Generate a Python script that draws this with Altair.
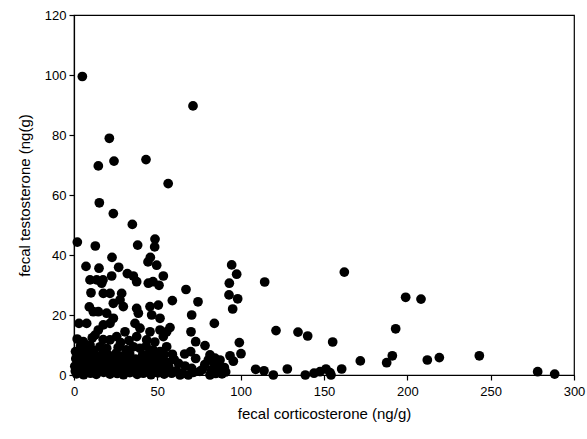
import altair as alt
import pandas as pd

# fecal corticosterone (ng/g) values
x_vals = [
    5.0, 71.4, 21.2, 14.6, 24.0, 43.2, 56.5, 15.2, 23.6, 35.0,
    2.0, 12.8, 38.2, 48.6, 48.4, 22.8, 45.8, 44.4, 7.2, 15.0,
    26.8, 49.6, 32.0, 35.6, 22.6, 53.6, 9.6, 13.6, 17.4, 47.4,
    51.0, 67.2, 59.0, 74.4, 70.6, 84.2, 94.6, 97.6, 93.2, 93.0,
    98.2, 95.2, 70.2, 73.0, 78.6, 99.2, 100.2, 95.6, 93.6, 109.0,
    59.0, 66.4, 70.0, 81.6, 83.6, 87.6, 3.0, 7.6, 4.0, 9.2,
    11.6, 10.2,
    114.4, 162.2, 121.2, 134.4, 140.2, 155.2, 199.0, 208.2, 193.0, 191.0,
    187.6, 212.0, 219.2, 243.2, 278.2, 288.4, 171.8, 160.6, 114.0, 119.6,
    128.0, 138.8, 144.0, 147.6, 151.2, 153.6, 154.2,
    57.6, 55.6, 80.6, 84.6, 86.6, 82.6, 81.6, 56.6, 62.6, 66.6,
    70.6, 68.6, 63.6, 58.6,
    17.6, 21.6, 28.6, 27.6, 23.6, 16.6, 44.6, 37.6, 14.6, 19.6,
    29.6, 37.6, 38.6, 45.6, 50.6, 46.6, 51.6, 23.6, 21.6, 17.6,
    30.6, 36.6, 39.6, 45.6, 51.6, 14.6, 12.6, 25.6, 21.6, 5.6,
    9.6, 15.6, 19.6, 37.6, 43.6, 53.6, 55.6, 35.6, 39.6, 47.6,
    51.6, 3.6, 1.6,
    1.5, 5.8, 9.9, 13.4, 17.8, 21.6, 25.9, 29.7, 33.5, 37.9,
    41.6, 46.2, 50.4, 54.1,
    3.9, 8.1, 12.2, 16.4, 20.3, 24.5, 28.2, 32.6, 36.3, 40.2,
    44.7, 48.3, 52.6, 56.9,
    2.8, 7.2, 11.3, 15.1, 19.4, 23.2, 27.4, 31.2, 35.1, 39.3,
    43.2, 47.4, 51.8, 60.1,
    5.1, 9.3, 13.2, 17.1, 21.0, 25.3, 29.1, 33.4, 41.2, 45.1,
    49.3, 54.2,
    7.5, 11.8, 26.5, 31.3, 43.3, 28.0, 33.0, 17.5, 48.5, 11.0,
    75.5, 78.5, 88.8, 90.2, 85.0, 91.0, 73.0,
    0.8, 3.6, 7.9, 11.7, 15.9, 19.8, 23.9, 27.8, 31.9, 35.8,
    39.7, 43.9, 47.8, 52.1, 2.2, 6.3, 10.4, 14.5, 18.6, 22.7,
    26.6, 30.5, 34.4, 38.5, 42.4, 46.6, 50.7, 55.3, 1.1, 4.6,
    8.8, 12.9, 16.8, 20.9, 24.8, 28.9, 32.8, 36.9, 40.8, 44.9,
    49.0, 53.0, 61.5, 65.2, 71.8, 77.0, 2.5, 0.5, 1.9, 0.9,
]

# fecal testosterone (ng/g) values
y_vals = [
    99.5, 89.7, 78.9, 69.7, 71.3, 71.8, 63.8, 57.4, 53.8, 50.2,
    44.3, 43.0, 43.3, 45.3, 42.7, 39.2, 39.2, 37.7, 36.2, 35.6,
    35.9, 36.6, 33.8, 33.0, 33.0, 33.0, 31.7, 31.7, 31.7, 31.1,
    29.9, 28.5, 24.8, 24.4, 20.0, 17.2, 36.7, 33.6, 30.6, 26.7,
    25.4, 22.0, 14.4, 11.1, 9.8, 10.8, 7.1, 4.6, 6.4, 1.9,
    6.9, 7.0, 7.8, 6.7, 4.4, 5.0, 17.2, 17.2, 9.8, 22.7,
    21.1, 27.4,
    31.0, 34.3, 14.8, 14.3, 13.0, 11.0, 25.9, 25.3, 15.4, 6.4,
    4.1, 5.0, 5.8, 6.4, 1.1, 0.3, 4.7, 2.0, 1.4, 0.0,
    2.0, 0.0, 0.6, 1.1, 2.0, 0.8, 0.0,
    15.8, 14.4, 5.0, 5.6, 2.8, 1.7, 0.0, 4.1, 3.9, 3.0,
    2.2, 0.0, 0.0, 0.6,
    27.2, 27.2, 27.2, 25.0, 23.9, 30.6, 30.6, 31.1, 21.1, 20.6,
    22.8, 22.2, 20.6, 22.8, 23.3, 20.0, 18.9, 18.9, 17.2, 16.7,
    14.4, 17.2, 15.6, 14.4, 15.0, 15.0, 13.3, 12.8, 11.7, 11.1,
    10.0, 9.4, 8.9, 12.8, 11.7, 12.8, 9.4, 9.4, 8.9, 8.3,
    7.8, 6.7, 5.6,
    0.4, 0.1, 0.6, 0.2, 0.9, 0.3, 0.5, 0.1, 0.8, 0.2,
    0.6, 0.1, 0.7, 0.3,
    2.3, 1.9, 2.6, 2.1, 2.8, 1.8, 2.4, 2.0, 2.7, 1.9,
    2.5, 2.2, 1.6, 2.6,
    4.2, 4.6, 3.9, 4.4, 4.0, 4.7, 3.8, 4.5, 4.1, 4.8,
    3.7, 4.3, 4.6, 5.2,
    6.4, 6.9, 6.2, 7.1, 6.5, 7.3, 6.3, 7.0, 6.6, 7.2,
    6.1, 6.8,
    8.6, 8.1, 9.2, 8.4, 9.6, 10.8, 11.5, 11.8, 11.0, 12.4,
    1.2, 3.5, 0.4, 2.5, 0.5, 1.0, 5.5,
    1.3, 1.0, 1.4, 1.1, 1.5, 1.2, 1.0, 1.3, 1.4, 1.1,
    1.2, 1.5, 1.0, 1.3, 3.3, 3.0, 3.4, 3.1, 3.5, 3.2,
    3.0, 3.4, 3.1, 3.3, 3.2, 3.5, 3.0, 3.6, 5.4, 5.6,
    5.3, 5.7, 5.5, 5.2, 5.8, 5.4, 5.6, 5.3, 5.7, 5.5,
    5.2, 5.0, 1.4, 0.5, 0.9, 1.8, 8.0, 2.9, 12.0, 7.8,
]

x_ticks = [0, 50, 100, 150, 200, 250, 300]
y_ticks = [0, 20, 40, 60, 80, 100, 120]

df = pd.DataFrame({"cort": x_vals, "testo": y_vals})

FONT = "Liberation Sans"

chart = alt.Chart(df).mark_circle(size=95, color="black", opacity=1).encode(
    x=alt.X(
        "cort:Q",
        scale=alt.Scale(domain=[0, 300], nice=False, zero=False),
        axis=alt.Axis(
            values=x_ticks,
            title="fecal corticosterone (ng/g)",
            titlePadding=8,
            labelPadding=5,
            labelFlush=False,
        ),
    ),
    y=alt.Y(
        "testo:Q",
        scale=alt.Scale(domain=[0, 120], nice=False, zero=False),
        axis=alt.Axis(
            values=y_ticks,
            title="fecal testosterone (ng(g)",
            titlePadding=12,
            labelPadding=3,
            labelFlush=False,
        ),
    ),
).properties(
    width=500,
    height=360,
    autosize=alt.AutoSizeParams(type="none"),
    padding={"left": 74, "top": 15, "right": 13, "bottom": 64},
).configure_view(
    stroke="black", strokeWidth=1.2
).configure_axis(
    grid=False,
    domainColor="black",
    domainWidth=1.2,
    tickColor="black",
    tickWidth=1.2,
    tickSize=5,
    labelFont=FONT,
    labelFontSize=13,
    labelColor="black",
    titleFont=FONT,
    titleFontSize=15,
    titleFontWeight="normal",
    titleColor="black",
)

chart.save("out.html", embed_options={"renderer": "svg", "actions": False})
